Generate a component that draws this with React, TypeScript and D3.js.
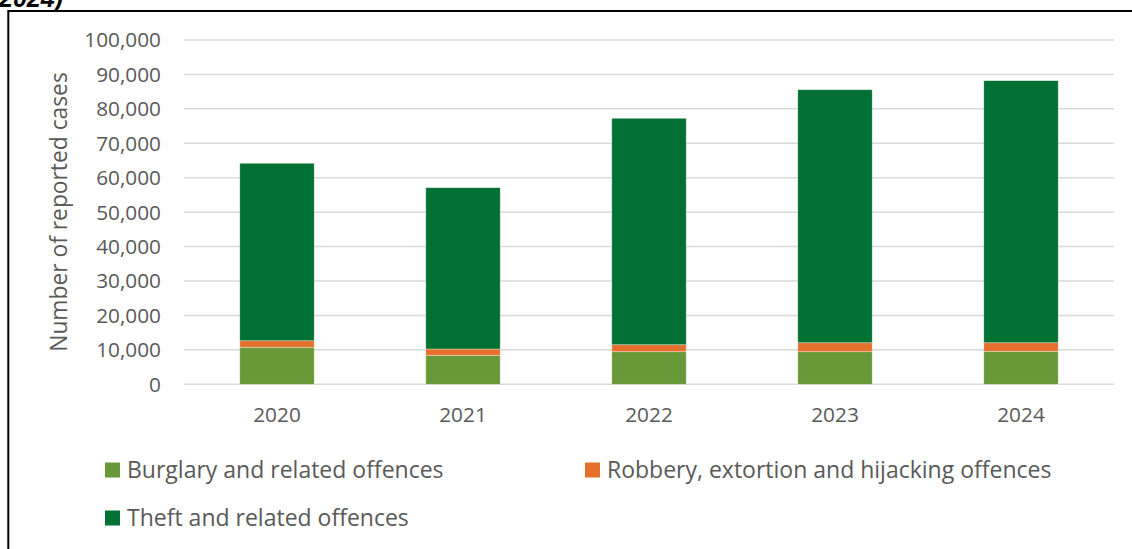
import React, { useEffect, useRef } from "react";
import * as d3 from "d3";

const years = ["2020", "2021", "2022", "2023", "2024"];
const burglary = [10750, 8420, 9470, 9470, 9580];
const robbery = [1910, 1830, 2030, 2610, 2500];
const theft = [51530, 46850, 65760, 73480, 76100];
const seriesNames = [
  "Burglary and related offences",
  "Robbery, extortion and hijacking offences",
  "Theft and related offences",
];
const seriesColors = ["#699838", "#E4702B", "#007033"];
const yTicks = [0, 10000, 20000, 30000, 40000, 50000, 60000, 70000, 80000, 90000, 100000];

const W = 1132;
const H = 549;
const FONT = "'Open Sans', sans-serif";

export default function App() {
  const ref = useRef<SVGSVGElement>(null);

  useEffect(() => {
    const svg = d3.select(ref.current);
    svg.selectAll("*").remove();

    const x = d3.scaleBand<string>().domain(years).range([184, 1114]).paddingInner(0.6).paddingOuter(0.3);
    const y = d3.scaleLinear().domain([0, 100000]).range([384.3, 40]);

    // clipped title remnant
    svg.append("text").attr("x", -1).attr("y", 7).attr("font-family", "'Liberation Sans', sans-serif")
      .attr("font-weight", "bold").attr("font-style", "italic").attr("font-size", 25).attr("fill", "#000").text("2024)");

    // border
    svg.append("rect").attr("x", 8.3).attr("y", 11).attr("width", 1140).attr("height", 560)
      .attr("fill", "none").attr("stroke", "#000").attr("stroke-width", 2);

    // gridlines
    svg.append("g").selectAll("line").data(yTicks).join("line")
      .attr("x1", 184).attr("x2", 1114)
      .attr("y1", (d) => y(d)).attr("y2", (d) => y(d))
      .attr("stroke", "#d9d9d9").attr("stroke-width", 1.5);

    // y tick labels
    svg.append("g").selectAll("text").data(yTicks).join("text")
      .attr("x", 161).attr("y", (d) => y(d)).attr("dy", "0.36em")
      .attr("text-anchor", "end").attr("font-family", FONT).attr("font-size", 20.8).attr("fill", "#595959")
      .text((d) => d3.format(",")(d));

    // x labels
    svg.append("g").selectAll("text").data(years).join("text")
      .attr("x", (d) => (x(d) as number) + x.bandwidth() / 2).attr("y", 422)
      .attr("text-anchor", "middle").attr("font-family", FONT).attr("font-size", 20.8).attr("fill", "#595959")
      .text((d) => d);

    // axis title
    svg.append("text").attr("transform", `translate(67,212) rotate(-90)`)
      .attr("text-anchor", "middle").attr("font-family", FONT).attr("font-size", 22.8).attr("fill", "#595959")
      .text("Number of reported cases");

    // stacked bars
    const rows = years.map((yr, i) => ({ year: yr, b: burglary[i], r: robbery[i], t: theft[i] }));
    const stack = d3.stack<any>().keys(["b", "r", "t"]);
    const stacked = stack(rows);
    svg.append("g").selectAll("g").data(stacked).join("g")
      .attr("fill", (_d, i) => seriesColors[i])
      .selectAll("rect").data((d) => d).join("rect")
      .attr("x", (d: any) => x(d.data.year) as number)
      .attr("width", x.bandwidth())
      .attr("y", (d) => y(d[1]))
      .attr("height", (d) => y(d[0]) - y(d[1]))
      .attr("stroke", "#ffffff").attr("stroke-opacity", 0.45).attr("stroke-width", 0.75);

    // legend
    const legendPos = [
      { x: 105, y: 470 },
      { x: 585, y: 470 },
      { x: 105, y: 518 },
    ];
    const lg = svg.append("g");
    seriesNames.forEach((name, i) => {
      const p = legendPos[i];
      lg.append("rect").attr("x", p.x).attr("y", p.y - 7.5).attr("width", 15).attr("height", 15).attr("fill", seriesColors[i]);
      lg.append("text").attr("x", p.x + 22).attr("y", p.y).attr("dy", "0.36em")
        .attr("font-family", FONT).attr("font-size", 23).attr("fill", "#595959").text(name);
    });
  }, []);

  return (
    <svg ref={ref} width={W} height={H} style={{ position: "absolute", left: 0, top: 0, background: "#fff" }} />
  );
}
